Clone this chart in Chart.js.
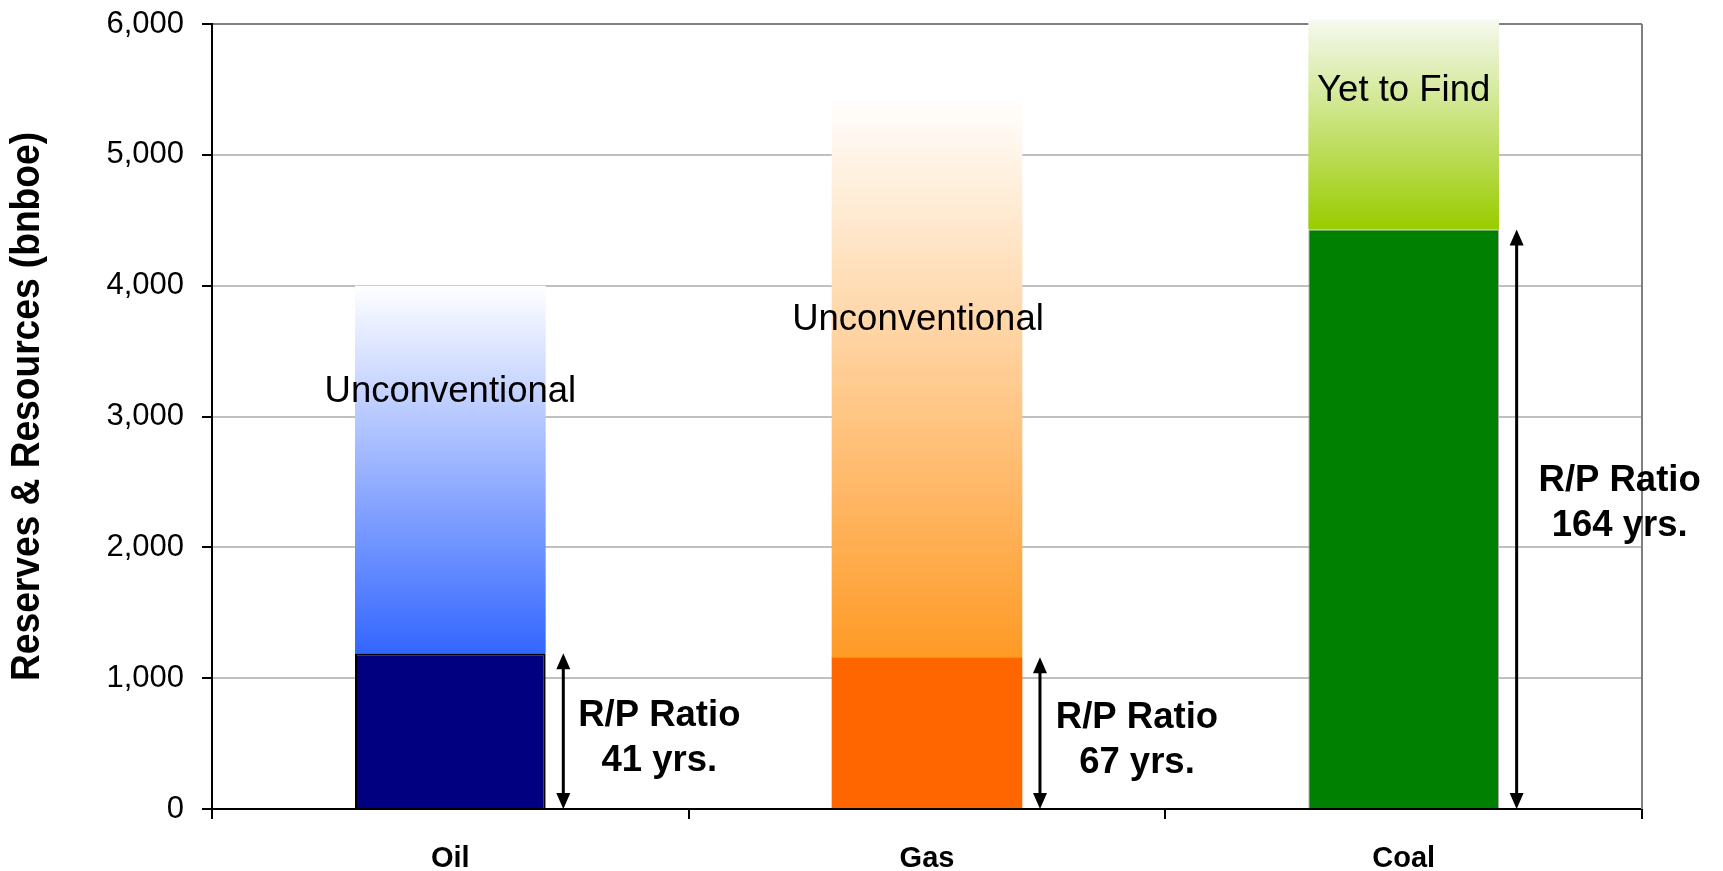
<!DOCTYPE html>
<html>
<head>
<meta charset="utf-8">
<script src="https://cdn.jsdelivr.net/npm/chart.js@4/dist/chart.umd.min.js"></script>
<style>
  html, body { margin: 0; padding: 0; background: #fff; }
  #wrap { width: 1723px; height: 871px; position: relative; }
</style>
</head>
<body>
<div id="wrap"><canvas id="reservesChart"></canvas></div>
<script>
const categories = ['Oil', 'Gas', 'Coal'];
const reserves = [1190, 1160, 4430];
const totalResources = [4000, 5450, 6035];
const noteLabels = ['Unconventional', 'Unconventional', 'Yet to Find'];
const noteValues = [3190, 3740, 5490];
const rpYears = [41, 67, 164];
const yMax = 6000;
const yStep = 1000;
const yTitle = 'Reserves & Resources (bnboe)';

const darkColors = ['#000080', '#ff6600', '#008000'];
const fadeBottom = ['#3366ff', '#ff9a26', '#99cc00'];
const fadeTop = ['#ffffff', '#ffffff', '#f6f9f0'];
const mainFont = '"Liberation Sans", Arial, sans-serif';

// small per-bar nudges for the text labels (px)
const noteDx = [0, -9, 0];
const rpDx = [96, 97, 103];
const rpDy = [7, 7, -16];

function fadeFill(ctx) {
  const chart = ctx.chart;
  const i = ctx.dataIndex;
  if (!chart.chartArea || ctx.type !== 'data') return fadeBottom[i];
  const y = chart.scales.y;
  const g = chart.ctx.createLinearGradient(0, y.getPixelForValue(reserves[i]), 0, y.getPixelForValue(totalResources[i]));
  g.addColorStop(0, fadeBottom[i]);
  g.addColorStop(1, fadeTop[i]);
  return g;
}

function drawArrow(c, x, y1, y2) {
  const head = 16, half = 7;
  c.save();
  c.strokeStyle = '#000';
  c.fillStyle = '#000';
  c.lineWidth = 3;
  c.beginPath();
  c.moveTo(x, y1 + head - 2);
  c.lineTo(x, y2 - head + 2);
  c.stroke();
  c.beginPath();
  c.moveTo(x, y1);
  c.lineTo(x - half, y1 + head);
  c.lineTo(x + half, y1 + head);
  c.closePath();
  c.fill();
  c.beginPath();
  c.moveTo(x, y2);
  c.lineTo(x - half, y2 - head);
  c.lineTo(x + half, y2 - head);
  c.closePath();
  c.fill();
  c.restore();
}

const notesPlugin = {
  id: 'notes',
  afterDatasetsDraw(chart) {
    const c = chart.ctx;
    const xs = chart.scales.x;
    const ys = chart.scales.y;
    const area = chart.chartArea;
    const catW = xs.width / categories.length;

    // right frame line
    c.save();
    c.strokeStyle = '#808080';
    c.lineWidth = 2;
    c.beginPath();
    c.moveTo(area.right, area.top);
    c.lineTo(area.right, area.bottom);
    c.stroke();
    c.restore();

    // y axis title, condensed bold
    c.save();
    c.translate(28, (area.top + area.bottom) / 2 - 10);
    c.rotate(-Math.PI / 2);
    c.font = 'bold 40px ' + mainFont;
    const w = c.measureText(yTitle).width;
    c.scale(549 / w, 1);
    c.fillStyle = '#000';
    c.textAlign = 'center';
    c.textBaseline = 'middle';
    c.fillText(yTitle, 0, 0);
    c.restore();

    categories.forEach((cat, i) => {
      const x0 = xs.getPixelForValue(i);
      const arrowX = x0 + catW * 0.237;
      const yTop = ys.getPixelForValue(reserves[i]);
      const yBase = ys.getPixelForValue(0);
      drawArrow(c, arrowX, yTop, yBase);

      c.save();
      c.fillStyle = '#000';
      c.textAlign = 'center';
      c.textBaseline = 'middle';
      c.font = '36.5px ' + mainFont;
      c.fillText(noteLabels[i], x0 + noteDx[i], ys.getPixelForValue(noteValues[i]));

      c.font = 'bold 36.5px ' + mainFont;
      const tx = arrowX + rpDx[i];
      const mid = (yTop + yBase) / 2 + rpDy[i];
      c.fillText('R/P Ratio', tx, mid - 22);
      c.fillText(rpYears[i] + ' yrs.', tx, mid + 23);
      c.restore();
    });
  }
};

const ctx = document.getElementById('reservesChart').getContext('2d');
new Chart(ctx, {
  type: 'bar',
  data: {
    labels: categories,
    datasets: [
      {
        label: 'Reserves',
        data: reserves,
        backgroundColor: darkColors,
        borderColor: ['#000000', '#ff6600', '#a8a8a8'],
        borderWidth: [2, 0, 1],
        barPercentage: 0.4,
        categoryPercentage: 1.0,
      },
      {
        label: 'Resources',
        data: categories.map((c, i) => [reserves[i], totalResources[i]]),
        backgroundColor: fadeFill,
        borderWidth: 0,
        barPercentage: 0.4,
        categoryPercentage: 1.0,
        clip: false,
      },
    ],
  },
  options: {
    responsive: true,
    maintainAspectRatio: false,
    animation: false,
    layout: { padding: { top: 0, right: 81, left: 0, bottom: 0 } },
    plugins: {
      legend: { display: false },
      tooltip: { enabled: false },
    },
    scales: {
      x: {
        stacked: true,
        grid: {
          offset: true,
          drawOnChartArea: false,
          color: '#000',
          lineWidth: 2,
          tickLength: 10,
        },
        border: { color: '#000', width: 2 },
        ticks: {
          color: '#000',
          padding: 23,
          font: { family: mainFont, size: 29, weight: 'bold' },
        },
        afterFit(scale) { scale.height = 62; },
      },
      y: {
        min: 0,
        max: yMax,
        ticks: {
          stepSize: yStep,
          color: '#000',
          padding: 18,
          font: { family: mainFont, size: 31 },
        },
        grid: {
          color: c => (c.tick && c.tick.value === yMax ? '#808080' : '#c0c0c0'),
          lineWidth: 2,
          tickColor: '#000',
          tickLength: 10,
        },
        border: { color: '#000', width: 2 },
        afterFit(scale) {
          scale.width = 212;
          scale.paddingTop = 24;
        },
      },
    },
  },
  plugins: [notesPlugin],
});
</script>
</body>
</html>
